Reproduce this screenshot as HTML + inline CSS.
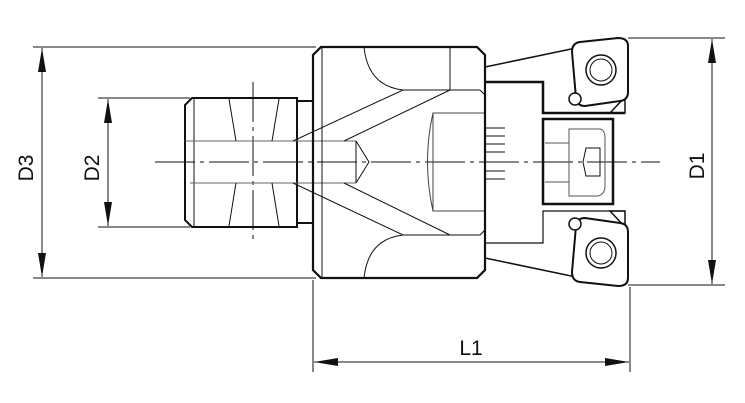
<!DOCTYPE html>
<html><head><style>html,body{margin:0;padding:0;background:#fff}svg{display:block}</style></head><body>
<svg width="745" height="403" viewBox="0 0 745 403" xmlns="http://www.w3.org/2000/svg" font-family="Liberation Sans, sans-serif">
<defs>
<marker id="a" viewBox="0 0 24 8" refX="24" refY="4" markerWidth="24" markerHeight="8" markerUnits="userSpaceOnUse" orient="auto"><path d="M0,0 L24,4 L0,8 Z" fill="#111"/></marker>
</defs>
<g stroke="#111" fill="none" stroke-width="1">
<line x1="33" y1="47" x2="316" y2="47"/>
<line x1="33" y1="278" x2="316" y2="278"/>
<line x1="98" y1="98" x2="190" y2="98"/>
<line x1="98" y1="227" x2="190" y2="227"/>
<line x1="628" y1="38" x2="725" y2="38"/>
<line x1="628" y1="285" x2="725" y2="285"/>
<line x1="313" y1="280" x2="313" y2="372"/>
<line x1="630" y1="287" x2="630" y2="372"/>
<line x1="42" y1="162" x2="42" y2="48" marker-end="url(#a)"/>
<line x1="42" y1="162" x2="42" y2="277" marker-end="url(#a)"/>
<line x1="108" y1="162" x2="108" y2="99" marker-end="url(#a)"/>
<line x1="108" y1="162" x2="108" y2="226" marker-end="url(#a)"/>
<line x1="712" y1="162" x2="712" y2="39" marker-end="url(#a)"/>
<line x1="712" y1="162" x2="712" y2="284" marker-end="url(#a)"/>
<line x1="470" y1="362" x2="314" y2="362" marker-end="url(#a)"/>
<line x1="470" y1="362" x2="629" y2="362" marker-end="url(#a)"/>
<line x1="155" y1="162" x2="660" y2="162" stroke-dasharray="40,5,4,5"/>
<line x1="253" y1="82" x2="253" y2="243" stroke-dasharray="40,5,4,5"/>
</g>
<g stroke="#111" fill="none">
<path d="M192,98 L297,98 L297,227 L192,227 L185,220 L185,105 Z" stroke-width="2"/>
<path d="M297,101 L313,101 M297,223 L313,223" stroke-width="2"/>
<line x1="194" y1="99" x2="194" y2="226"/>
<line x1="185" y1="141" x2="356" y2="141" stroke="#666"/>
<line x1="190" y1="183" x2="356" y2="183" stroke="#666"/>
<path d="M356,141 L356,183 M356,141 L369,162 L356,183"/>
<path d="M229,99 L236,141 M279,99 L272,141 M229,226 L236,183 M279,226 L272,183"/>
<path d="M321,47 L477,47 L485,55 L485,270 L477,278 L321,278 L313,270 L313,55 Z" stroke-width="2.2"/>
<line x1="322" y1="48" x2="322" y2="277"/>
<path d="M293,141 L403,90 L480,90 L485,95 M344,141 L450,90 M450,47 L450,90"/>
<path d="M293,183 L403,235 L480,235 L485,230 M344,183 L450,235"/>
<path d="M364,47 Q368,86 403,90 M364,278 Q368,239 403,235"/>
<path d="M484,113 L433,113 L433,211 L484,211" stroke="#444"/>
<path d="M433,113 Q422,162 433,211" stroke="#444"/>
<path d="M485,128 L505,128 M485,136 L505,136 M485,144 L505,144 M485,152 L505,152 M485,171 L505,171 M485,179 L505,179"/>
<path d="M485,67 L576,48 M485,258 L576,277" stroke-width="1.5"/>
<path d="M485,82 L543,82 L543,113 L625,113" stroke-width="2.5"/>
<path d="M485,243 L543,243 L543,211 L625,211" stroke-width="1.2"/>
<rect x="543" y="119" width="70" height="85" stroke-width="2.5"/>
<path d="M569,129 L600,129 Q605,130 605,138 L605,186 Q605,194 598,196 L569,196 Z" stroke="#555"/>
<path d="M545,143 L569,143 M545,182 L569,182" stroke="#555"/>
<path d="M586,148 L600,148 L600,176 L586,176 L583,162 Z"/>
<path d="M610,113 L625,97 L625,113 Z" stroke-width="1.5"/>
<path d="M610,211 L625,227 L625,211 Z" stroke-width="1.5"/>
<g stroke-width="2">
<path d="M580,42 L618,38 Q628,38 628,46 L628,92 Q628,100 620,101 L585,106 Q577,106 576,98 L572,52 Q572,43 580,42 Z" fill="#fff"/>
<path d="M580,282 L618,286 Q628,286 628,278 L628,232 Q628,224 620,223 L585,218 Q577,218 576,226 L572,272 Q572,281 580,282 Z" fill="#fff"/>
</g>
<circle cx="601" cy="70" r="15" stroke-width="1.5"/><circle cx="601" cy="70" r="11"/>
<circle cx="601" cy="253" r="15" stroke-width="1.5"/><circle cx="601" cy="253" r="11"/>
<circle cx="575" cy="99" r="6" fill="#fff" stroke-width="1.5"/>
<circle cx="575" cy="224" r="6" fill="#fff" stroke-width="1.5"/>
</g>
<g font-size="21" fill="#111" text-anchor="middle">
<text transform="translate(33,168) rotate(-90)">D3</text>
<text transform="translate(99,168) rotate(-90)">D2</text>
<text transform="translate(704,166) rotate(-90)">D1</text>
<text x="471" y="355">L1</text>
</g>
</svg>
</body></html>
